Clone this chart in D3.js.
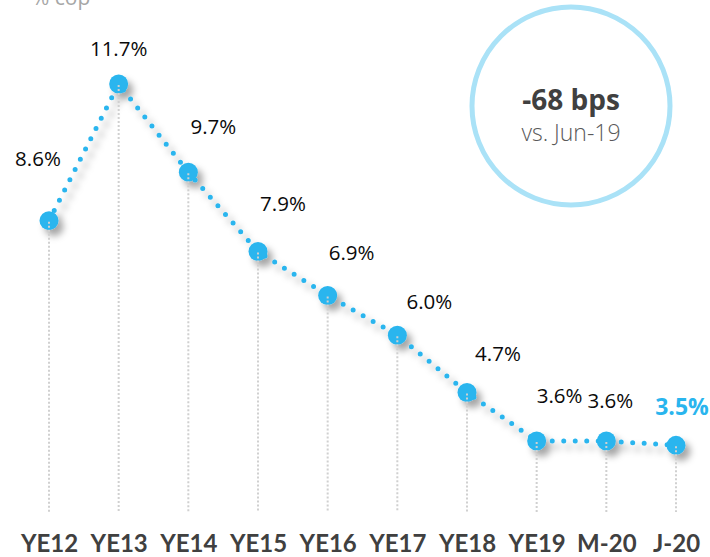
<!DOCTYPE html>
<html><head><meta charset="utf-8">
<script src="https://cdn.jsdelivr.net/npm/d3@7"></script>
<style>
html,body{margin:0;padding:0;background:#fff;}
svg{display:block;}
</style></head>
<body>
<svg id="chart" width="710" height="557"></svg>
<script>
const categories = ["YE12","YE13","YE14","YE15","YE16","YE17","YE18","YE19","M-20","J-20"];
const values = [8.6, 11.7, 9.7, 7.9, 6.9, 6.0, 4.7, 3.6, 3.6, 3.5];
const valueLabels = ["8.6%","11.7%","9.7%","7.9%","6.9%","6.0%","4.7%","3.6%","3.6%","3.5%"];
const unitLabel = "% cop";
const calloutMain = "-68 bps";
const calloutSub = "vs. Jun-19";

// layout (label offsets relative to markers)
const labelDx = [-11, 0, 25, 25, 24, 32, 31, 23, 4, 6];
const labelDy = [-60, -34, -44, -46, -41, -32, -37, -43, -38, -37];

const blue = "#29b5ee";
const svg = d3.select("#chart");
const x = d3.scalePoint().domain(categories).range([49, 676]);
const y = d3.scaleLinear().domain([0, 12]).range([599.6, 70.8]);
const baseY = 512;

const defs = svg.append("defs");
const f = defs.append("filter").attr("id","sh").attr("x","-50%").attr("y","-50%").attr("width","200%").attr("height","200%");
f.append("feDropShadow").attr("dx",5).attr("dy",6).attr("stdDeviation",3.5)
  .attr("flood-color","#000").attr("flood-opacity",0.35);

// unit label (cut off at top, as in the reference)
svg.append("text").attr("x",32).attr("y",5).attr("font-family","Open Sans, sans-serif")
  .attr("font-size",21).attr("fill","#a6a6a6").text(unitLabel);

const data = categories.map((c,i)=>({c, v: values[i], l: valueLabels[i], i}));

const g = svg.append("g").attr("filter","url(#sh)");
g.append("path").datum(data)
  .attr("d", d3.line().x(d=>x(d.c)).y(d=>y(d.v)))
  .attr("fill","none").attr("stroke",blue).attr("stroke-width",5)
  .attr("stroke-linecap","round").attr("stroke-dasharray","0 11.5");
g.selectAll("circle").data(data).join("circle")
  .attr("cx",d=>x(d.c)).attr("cy",d=>y(d.v)).attr("r",9.5).attr("fill",blue);

// drop lines
svg.selectAll("line.drop").data(data).join("line").attr("class","drop")
  .attr("x1",d=>x(d.c)).attr("x2",d=>x(d.c))
  .attr("y1",d=>y(d.v)+1).attr("y2",baseY)
  .attr("stroke","#d0d0d0").attr("stroke-width",2).attr("stroke-dasharray","2 2");

// value labels
svg.selectAll("text.val").data(data).join("text").attr("class","val")
  .attr("x",d=>x(d.c)+labelDx[d.i]).attr("y",d=>y(d.v)+labelDy[d.i])
  .attr("text-anchor","middle").attr("dominant-baseline","middle")
  .attr("font-family","Open Sans, sans-serif")
  .attr("font-size",d=>d.i===data.length-1?23:20.5)
  .attr("font-weight",d=>d.i===data.length-1?700:400)
  .attr("fill",d=>d.i===data.length-1?blue:"#0a0a0a")
  .text(d=>d.l);

// x axis labels
const xAxis = d3.axisBottom(x).tickSize(0).tickPadding(0);
const ax = svg.append("g").attr("transform",`translate(0,${baseY+23})`).call(xAxis);
ax.select(".domain").remove();
ax.selectAll("text").attr("font-family","Lato, sans-serif").attr("font-size",24)
  .attr("font-weight",700).attr("fill","#404040");

// callout circle
const cx = 571, cy = 106;
svg.append("circle").attr("cx",cx).attr("cy",cy).attr("r",99)
  .attr("fill","none").attr("stroke","#aae2f7").attr("stroke-width",5);
svg.append("text").attr("x",cx).attr("y",cy+4).attr("text-anchor","middle")
  .attr("font-family","Open Sans, sans-serif").attr("font-weight",700).attr("font-size",28)
  .attr("fill","#404040").text(calloutMain);
svg.append("text").attr("x",cx).attr("y",cy+35).attr("text-anchor","middle")
  .attr("font-family","Open Sans, sans-serif").attr("font-weight",300).attr("font-size",23)
  .attr("fill","#595959").text(calloutSub);
</script>
</body></html>
